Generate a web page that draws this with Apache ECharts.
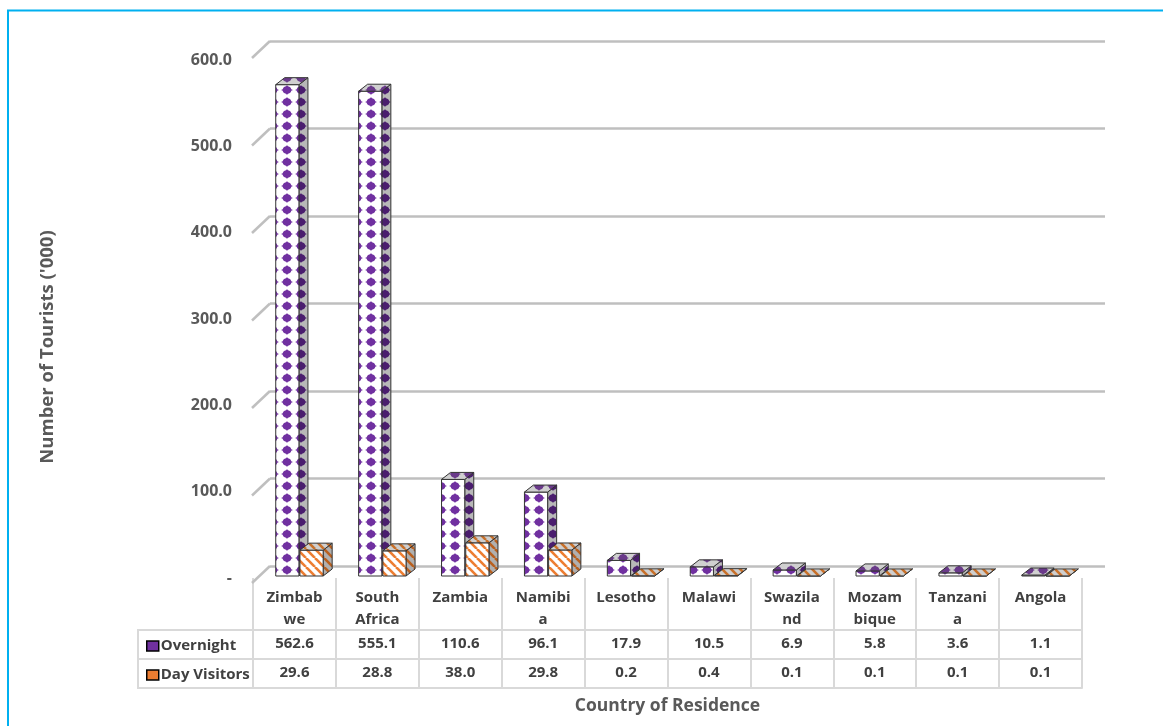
<!DOCTYPE html>
<html>
<head>
<meta charset="utf-8">
<script src="https://cdn.jsdelivr.net/npm/echarts@6/dist/echarts.min.js"></script>
<style>
html,body{margin:0;padding:0;background:#fff;}
#c{width:1163px;height:726px;}
</style>
</head>
<body>
<div id="c"></div>
<script>
const categories = ['Zimbabwe','South Africa','Zambia','Namibia','Lesotho','Malawi','Swaziland','Mozambique','Tanzania','Angola'];
const categoryLabels = ['Zimbab\nwe','South\nAfrica','Zambia','Namibi\na','Lesotho','Malawi','Swazila\nnd','Mozam\nbique','Tanzani\na','Angola'];
const overnight = [562.6,555.1,110.6,96.1,17.9,10.5,6.9,5.8,3.6,1.1];
const dayVisitors = [29.6,28.8,38.0,29.8,0.2,0.4,0.1,0.1,0.1,0.1];
const yTicks = [0,100,200,300,400,500,600];
const seriesNames = ['Overnight','Day Visitors'];

const FONT = '"Open Sans"';
const PURPLE = '#7030A0';
const ORANGE = '#ED7D31';

function diamondPattern(bg, fg){
  const c = document.createElement('canvas'); c.width = 14; c.height = 12;
  const g = c.getContext('2d');
  g.fillStyle = bg; g.fillRect(0,0,14,12);
  g.fillStyle = fg; g.beginPath();
  g.moveTo(7,1); g.quadraticCurveTo(9,5,13,6); g.quadraticCurveTo(9,7,7,11); g.quadraticCurveTo(5,7,1,6); g.quadraticCurveTo(5,5,7,1); g.closePath(); g.fill();
  g.beginPath(); g.ellipse(7,6,4.3,3.8,0,0,Math.PI*2); g.fill();
  return {image:c, repeat:'repeat'};
}
function stripePattern(bg, fg){
  const n = 9;
  const c = document.createElement('canvas'); c.width = n; c.height = n;
  const g = c.getContext('2d');
  g.fillStyle = bg; g.fillRect(0,0,n,n);
  g.strokeStyle = fg; g.lineWidth = 2.6;
  for (let k=-1;k<=1;k++){ g.beginPath(); g.moveTo(k*n,0); g.lineTo(k*n+n,n); g.stroke(); }
  return {image:c, repeat:'repeat'};
}
const styles = [
  {front: diamondPattern('#ffffff', PURPLE), side: diamondPattern('#b8b8b8', '#4a1d6e'), top: diamondPattern('#d0d0d0', '#6a3a8a')},
  {front: stripePattern('#ffffff', ORANGE), side: stripePattern('#b0b0b0', '#b9601f'), top: stripePattern('#cfcfcf', '#c8702a')}
];

function barRenderer(which){
  return function(params, api){
    const i = api.value(0), v = api.value(1);
    const b = api.coord([i, 0]);
    const t = api.coord([i, v]);
    const band = api.size([1, 0])[0];
    const w = band * 0.28;
    const c = b[0];
    const x0 = which === 0 ? c - w - 0.5 : c + 0.5;
    const x1 = x0 + w;
    const d = 9, dy = 7;
    const st = styles[which];
    const stroke = {stroke:'#333333', lineWidth:1};
    return {
      type:'group',
      children:[
        {type:'polygon', shape:{points:[[x1,t[1]],[x1+d,t[1]-dy],[x1+d,b[1]-dy],[x1,b[1]]]}, style:Object.assign({fill:st.side}, stroke)},
        {type:'rect', shape:{x:x0, y:t[1], width:w, height:b[1]-t[1]}, style:Object.assign({fill:st.front}, stroke)},
        {type:'polygon', shape:{points:[[x0,t[1]],[x0+d,t[1]-dy],[x1+d,t[1]-dy],[x1,t[1]]]}, style:Object.assign({fill:st.top}, stroke)}
      ]
    };
  };
}

const tableLine = {color:'#d9d9d9', width:2};
const txt = {fontFamily:FONT, fontWeight:'bold', color:'#404040', fontSize:15};

const option = {
  backgroundColor:'#ffffff',
  animation:false,
  grid:[
    {left:253, right:81, top:60, bottom:148},   // front plane (labels + table)
    {left:258, right:76, top:52, bottom:150},   // bars plane
    {left:270, right:58, top:41, bottom:160}    // back wall
  ],
  legend:{
    orient:'vertical', left:141, top:632, itemWidth:12, itemHeight:10, itemGap:11,
    selectedMode:false,
    textStyle:Object.assign({}, txt, {lineHeight:18, padding:[0,0,0,-3]}),
    data:[
      {name:seriesNames[0], icon:'rect', itemStyle:{color:PURPLE, borderColor:'#000', borderWidth:1.5}},
      {name:seriesNames[1], icon:'rect', itemStyle:{color:ORANGE, borderColor:'#000', borderWidth:1.5}}
    ]
  },
  xAxis:[
    {gridIndex:0, type:'category', data:categories, position:'bottom',
      axisLine:{show:false},
      axisTick:{show:true, length:110, interval:0, lineStyle:tableLine},
      axisLabel:Object.assign({}, txt, {interval:0, margin:9, lineHeight:22, verticalAlign:'top',
        formatter:(v, idx)=>categoryLabels[idx]})
    },
    {gridIndex:0, type:'category', data:categories, position:'bottom', offset:52,
      axisLine:{show:true, lineStyle:tableLine}, axisTick:{show:false},
      axisLabel:Object.assign({}, txt, {interval:0, margin:5, lineHeight:18, verticalAlign:'top',
        formatter:(v, idx)=>overnight[idx].toFixed(1)})
    },
    {gridIndex:0, type:'category', data:categories, position:'bottom', offset:81,
      axisLine:{show:true, lineStyle:tableLine}, axisTick:{show:false},
      axisLabel:Object.assign({}, txt, {interval:0, margin:5, lineHeight:18, verticalAlign:'top',
        formatter:(v, idx)=>dayVisitors[idx].toFixed(1)})
    },
    {gridIndex:0, type:'category', data:categories, position:'bottom', offset:110,
      axisLine:{show:true, lineStyle:tableLine}, axisTick:{show:false}, axisLabel:{show:false},
      name:'Country of Residence', nameLocation:'middle', nameGap:9,
      nameTextStyle:{fontFamily:FONT, fontWeight:'bold', color:'#595959', fontSize:17.5, verticalAlign:'top'}
    },
    {gridIndex:1, type:'category', data:categories, show:false},
    {gridIndex:2, type:'value', min:0, max:1, show:false}
  ],
  yAxis:[
    {gridIndex:0, type:'value', min:0, max:600, interval:100,
      axisLine:{show:false}, axisTick:{show:false}, splitLine:{show:false},
      axisLabel:{fontFamily:FONT, fontWeight:'bold', color:'#595959', fontSize:16, margin:21,
        formatter:v=> v === 0 ? '-' : v.toFixed(1)},
      name:"Number of Tourists ('000)", nameLocation:'middle', nameRotate:90, nameGap:196,
      nameTextStyle:{fontFamily:FONT, fontWeight:'bold', color:'#595959', fontSize:18.5, padding:[0,56,0,0]}
    },
    {gridIndex:1, type:'value', min:0, max:600, interval:100, show:false},
    {gridIndex:2, type:'value', min:0, max:600, interval:100,
      axisLine:{show:false}, axisTick:{show:false}, axisLabel:{show:false},
      splitLine:{show:true, lineStyle:{color:'#bfbfbf', width:2.5}}
    }
  ],
  series:[
    {type:'custom', name:'wall-diagonals', xAxisIndex:5, yAxisIndex:2, silent:true,
      data:yTicks.map(t=>[0, t]),
      renderItem:(params, api)=>{
        const p = api.coord([0, api.value(1)]);
        return {type:'line', shape:{x1:p[0], y1:p[1], x2:p[0]-18, y2:p[1]+17},
          style:{stroke:'#bfbfbf', lineWidth:2.5}};
      }
    },
    {type:'custom', name:seriesNames[0], xAxisIndex:4, yAxisIndex:1, z:3,
      itemStyle:{color:PURPLE},
      data:overnight.map((v,i)=>[i, v]), renderItem:barRenderer(0)},
    {type:'custom', name:seriesNames[1], xAxisIndex:4, yAxisIndex:1, z:4,
      itemStyle:{color:ORANGE},
      data:dayVisitors.map((v,i)=>[i, v]), renderItem:barRenderer(1)}
  ],
  graphic:[
    {type:'rect', silent:true, shape:{x:8, y:10.5, width:1170, height:740}, style:{fill:'none', stroke:'#00B0F0', lineWidth:2}},
    {type:'polyline', silent:true, shape:{points:[[253,630],[138,630],[138,688],[253,688]]}, style:{stroke:'#d9d9d9', lineWidth:2, fill:'none'}},
    {type:'line', silent:true, shape:{x1:138, y1:659, x2:253, y2:659}, style:{stroke:'#d9d9d9', lineWidth:2}}
  ]
};

const chart = echarts.init(document.getElementById('c'));
chart.setOption(option);
</script>
</body>
</html>
